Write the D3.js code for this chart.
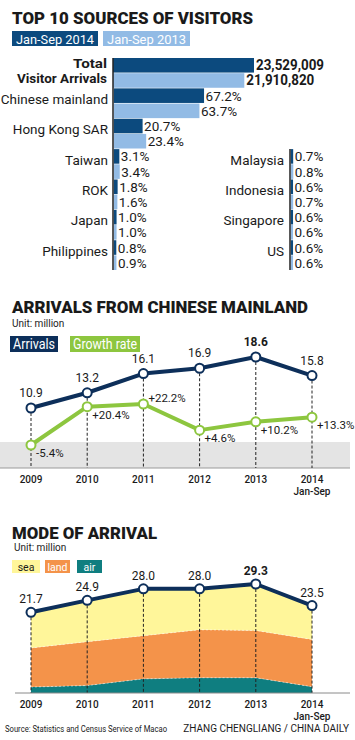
<!DOCTYPE html>
<html><head><meta charset="utf-8">
<script src="https://cdn.jsdelivr.net/npm/d3@7"></script>
<style>
html,body{margin:0;padding:0;background:#fff;}
svg{display:block;font-family:Roboto,"Noto Sans",sans-serif;}
</style></head>
<body><svg id="c" width="355" height="740"></svg>
<script>
// ---------- DATA ----------
const legendTop = ["Jan-Sep 2014", "Jan-Sep 2013"];
const totalLabel = ["Total", "Visitor Arrivals"];
const totalValues = [23529009, 21910820];
const leftCats = ["Chinese mainland", "Hong Kong SAR", "Taiwan", "ROK", "Japan", "Philippines"];
const left2014 = [67.2, 20.7, 3.1, 1.8, 1.0, 0.8];
const left2013 = [63.7, 23.4, 3.4, 1.6, 1.0, 0.9];
const rightCats = ["Malaysia", "Indonesia", "Singapore", "US"];
const right2014 = [0.7, 0.6, 0.6, 0.6];
const right2013 = [0.8, 0.7, 0.6, 0.6];

const years = ["2009", "2010", "2011", "2012", "2013", "2014"];
const yearSub = ["", "", "", "", "", "Jan-Sep"];
const arrivals = [10.9, 13.2, 16.1, 16.9, 18.6, 15.8];
const growth = [-5.4, 20.4, 22.2, 4.6, 10.2, 13.3];

const modeKeys = ["air", "land", "sea"];
const seaVals = [9.6, 11.1, 12.6, 11.0, 12.5, 9.1];
const landVals = [10.5, 11.8, 11.6, 12.9, 12.7, 12.7];
const airVals = [1.6, 2.0, 3.8, 4.1, 4.1, 1.7];
const modeTotals = [21.7, 24.9, 28.0, 28.0, 29.3, 23.5];

// ---------- STYLE ----------
const C = {
  dark: "#0c4a7e", light: "#92bbe5", navy: "#0d2f5a", green: "#8dc63f",
  sea: "#fff69a", land: "#f4934a", air: "#0f7e80", text: "#1a1a1a", band: "#e4e4e4"
};
const svg = d3.select("#c");

function title(txt, x, y, len) {
  svg.append("text").attr("x", x).attr("y", y).text(txt)
    .attr("font-size", 16.5).attr("font-weight", 900).attr("fill", C.text)
    .attr("textLength", len).attr("lengthAdjust", "spacingAndGlyphs");
}
const fmtPct = v => ((v > 0 ? "+" : "") + d3.format(".1f")(v)).replace("\u2212", "-") + "%";

// ================= TOP 10 SOURCES =================
title("TOP 10 SOURCES OF VISITORS", 12, 24, 241);
[[12, 86, C.dark], [103, 87, C.light]].forEach((d, i) => {
  svg.append("rect").attr("x", d[0]).attr("y", 31).attr("width", d[1]).attr("height", 15).attr("fill", d[2]);
  svg.append("text").attr("x", d[0] + 4).attr("y", 43.5).text(legendTop[i])
    .attr("fill", "#fff").attr("font-size", 13).attr("textLength", d[1] - 8).attr("lengthAdjust", "spacingAndGlyphs");
});

const rowIdx = d3.range(7);
const yRow = d3.scaleBand().domain(rowIdx).range([58, 270]).paddingInner(0.02);
const ySub = d3.scaleBand().domain(["2014", "2013"]).range([0, yRow.bandwidth()]).paddingInner(0.04);
const axL = 113, axR = 290;
const xPct = d3.scaleLinear().domain([0, 70]).range([1.5, 94]);
const xTot = d3.scaleLinear().domain([0, totalValues[0]]).range([0, 141]);

// Total row
const gTot = svg.append("g");
totalValues.forEach((v, i) => {
  const key = i === 0 ? "2014" : "2013";
  const y0 = yRow(0) + ySub(key);
  gTot.append("rect").attr("x", axL).attr("y", y0).attr("width", xTot(v)).attr("height", ySub.bandwidth())
    .attr("fill", i === 0 ? C.dark : C.light);
  gTot.append("text").attr("x", axL + xTot(v) + 2).attr("y", y0 + ySub.bandwidth() / 2 + 5)
    .text(d3.format(",")(v)).attr("font-size", 14).attr("font-weight", 700).attr("fill", C.text)
    .attr("textLength", 68).attr("lengthAdjust", "spacingAndGlyphs");
});
totalLabel.forEach((t, i) => {
  svg.append("text").attr("x", 107).attr("y", yRow(0) + 10 + i * 14.5).attr("text-anchor", "end")
    .text(t).attr("font-size", 12).attr("font-weight", 700).attr("fill", C.text)
    .attr("textLength", i === 0 ? 34 : 90).attr("lengthAdjust", "spacingAndGlyphs");
});

function drawRows(cats, v14, v13, startIdx, ax, labelX) {
  const g = svg.append("g");
  cats.forEach((c, i) => {
    const r = startIdx + i;
    g.append("text").attr("x", labelX).attr("y", yRow(r) + 15.5).attr("text-anchor", "end")
      .text(c).attr("font-size", 13.5).attr("fill", C.text);
    [[v14[i], "2014", C.dark], [v13[i], "2013", C.light]].forEach(d => {
      const y0 = yRow(r) + ySub(d[1]);
      const w = xPct(d[0]);
      g.append("rect").attr("x", ax).attr("y", y0).attr("width", w).attr("height", ySub.bandwidth()).attr("fill", d[2]);
      g.append("text").attr("x", ax + w + 1.5).attr("y", y0 + ySub.bandwidth() / 2 + 5)
        .text(d3.format(".1f")(d[0]) + "%").attr("font-size", 13.5).attr("fill", C.text);
    });
  });
}
drawRows(leftCats, left2014, left2013, 1, axL + 0.75, 108);
drawRows(rightCats, right2014, right2013, 3, axR + 0.75, 284);

svg.append("line").attr("x1", axL).attr("x2", axL).attr("y1", yRow(0)).attr("y2", yRow(6) + yRow.bandwidth())
  .attr("stroke", "#222").attr("stroke-width", 1.5);
svg.append("line").attr("x1", axR).attr("x2", axR).attr("y1", yRow(3)).attr("y2", yRow(6) + yRow.bandwidth())
  .attr("stroke", "#222").attr("stroke-width", 1.5);

// ================= ARRIVALS FROM CHINESE MAINLAND =================
title("ARRIVALS FROM CHINESE MAINLAND", 12, 313, 296);
svg.append("text").attr("x", 12).attr("y", 326.5).text("Unit: million").attr("font-size", 10).attr("fill", C.text);
[[10, 48, C.navy, "Arrivals"], [70, 70, C.green, "Growth rate"]].forEach(d => {
  svg.append("rect").attr("x", d[0]).attr("y", 336).attr("width", d[1]).attr("height", 16).attr("fill", d[2]);
  svg.append("text").attr("x", d[0] + 3).attr("y", 349).text(d[3]).attr("fill", "#fff").attr("font-size", 14)
    .attr("textLength", d[1] - 6).attr("lengthAdjust", "spacingAndGlyphs");
});

const x = d3.scalePoint().domain(years).range([31, 312]);
const base2 = 468;
const yA = d3.scaleLinear().domain([10.9, 18.6]).range([408, 357]);
const yG = d3.scaleLinear().domain([-5.4, 22.2]).range([445, 404]);

svg.append("rect").attr("x", 0).attr("y", 442).attr("width", 350).attr("height", base2 - 442).attr("fill", C.band);
svg.append("line").attr("x1", 0).attr("x2", 350).attr("y1", base2).attr("y2", base2).attr("stroke", "#9a9a9a").attr("stroke-width", 1);

const g2 = svg.append("g");
years.forEach((yr, i) => {
  g2.append("line").attr("x1", x(yr)).attr("x2", x(yr)).attr("y1", yA(arrivals[i])).attr("y2", base2)
    .attr("stroke", "#222").attr("stroke-width", 1).attr("stroke-dasharray", "3,2");
});
const lineA = d3.line().x((d, i) => x(years[i])).y(d => yA(d));
const lineG = d3.line().x((d, i) => x(years[i])).y(d => yG(d));
g2.append("path").attr("d", lineG(growth)).attr("fill", "none").attr("stroke", C.green).attr("stroke-width", 4).attr("stroke-linejoin", "round");
g2.append("path").attr("d", lineA(arrivals)).attr("fill", "none").attr("stroke", C.navy).attr("stroke-width", 4).attr("stroke-linejoin", "round");
growth.forEach((v, i) => {
  g2.append("circle").attr("cx", x(years[i])).attr("cy", yG(v)).attr("r", 4.5).attr("fill", "#fff").attr("stroke", C.green).attr("stroke-width", 2);
  const peak = i > 0 && i < growth.length - 1 && v > growth[i - 1] && v > growth[i + 1];
  g2.append("text").attr("x", x(years[i]) + 5).attr("y", yG(v) + (peak ? -2 : 12))
    .text(fmtPct(v)).attr("font-size", 11.5).attr("fill", C.text);
});
const maxA = d3.max(arrivals);
arrivals.forEach((v, i) => {
  g2.append("circle").attr("cx", x(years[i])).attr("cy", yA(v)).attr("r", 4.5).attr("fill", "#fff").attr("stroke", C.navy).attr("stroke-width", 2);
  g2.append("text").attr("x", x(years[i])).attr("y", yA(v) - 11).attr("text-anchor", "middle")
    .text(d3.format(".1f")(v)).attr("font-size", 12).attr("font-weight", v === maxA ? 700 : 400).attr("fill", C.text);
});
years.forEach((yr, i) => {
  g2.append("text").attr("x", x(yr)).attr("y", base2 + 15).attr("text-anchor", "middle").text(yr)
    .attr("font-size", 10).attr("font-weight", 500).attr("fill", C.text);
  if (yearSub[i]) g2.append("text").attr("x", x(yr)).attr("y", base2 + 27).attr("text-anchor", "middle").text(yearSub[i])
    .attr("font-size", 10).attr("font-weight", 500).attr("fill", C.text);
});

// ================= MODE OF ARRIVAL =================
title("MODE OF ARRIVAL", 12, 539, 145);
svg.append("text").attr("x", 14).attr("y", 551).text("Unit: million").attr("font-size", 10).attr("fill", C.text);
[[12, 28, C.sea, "sea", C.text], [45, 25, C.land, "land", "#fff"], [77, 25, C.air, "air", "#fff"]].forEach(d => {
  svg.append("rect").attr("x", d[0]).attr("y", 560).attr("width", d[1]).attr("height", 13).attr("fill", d[2]);
  svg.append("text").attr("x", d[0] + d[1] / 2).attr("y", 570.5).attr("text-anchor", "middle").text(d[3])
    .attr("fill", d[4]).attr("font-size", 10.5);
});

const base3 = 693;
const yM = d3.scaleLinear().domain([0, 29.3]).range([base3, 584]);
const modeData = years.map((yr, i) => ({ year: yr, sea: seaVals[i], land: landVals[i], air: airVals[i] }));
const stack = d3.stack().keys(modeKeys)(modeData);
const area = d3.area().x(d => x(d.data.year)).y0(d => yM(d[0])).y1(d => yM(d[1]));
const g3 = svg.append("g");
stack.forEach(s => {
  g3.append("path").attr("d", area(s)).attr("fill", C[s.key]);
});
stack.slice(0, 2).forEach(s => {
  g3.append("path").attr("d", d3.line().x(d => x(d.data.year)).y(d => yM(d[1]))(s))
    .attr("fill", "none").attr("stroke", "#fff").attr("stroke-width", 0.7).attr("stroke-dasharray", "2,2").attr("opacity", 0.7);
});
svg.append("line").attr("x1", 15).attr("x2", 350).attr("y1", base3).attr("y2", base3).attr("stroke", "#8a8a8a").attr("stroke-width", 1);
years.forEach((yr, i) => {
  g3.append("line").attr("x1", x(yr)).attr("x2", x(yr)).attr("y1", yM(modeTotals[i])).attr("y2", base3)
    .attr("stroke", "#222").attr("stroke-width", 1).attr("stroke-dasharray", "3,2");
});
const lineM = d3.line().x((d, i) => x(years[i])).y(d => yM(d));
g3.append("path").attr("d", lineM(modeTotals)).attr("fill", "none").attr("stroke", C.navy).attr("stroke-width", 4).attr("stroke-linejoin", "round");
const maxM = d3.max(modeTotals);
modeTotals.forEach((v, i) => {
  g3.append("circle").attr("cx", x(years[i])).attr("cy", yM(v)).attr("r", 4.5).attr("fill", "#fff").attr("stroke", C.navy).attr("stroke-width", 2);
  g3.append("text").attr("x", x(years[i])).attr("y", yM(v) - 9).attr("text-anchor", "middle")
    .text(d3.format(".1f")(v)).attr("font-size", 12).attr("font-weight", v === maxM ? 700 : 400).attr("fill", C.text);
});
years.forEach((yr, i) => {
  g3.append("text").attr("x", x(yr)).attr("y", base3 + 15).attr("text-anchor", "middle").text(yr)
    .attr("font-size", 10).attr("font-weight", 500).attr("fill", C.text);
  if (yearSub[i]) g3.append("text").attr("x", x(yr)).attr("y", base3 + 27).attr("text-anchor", "middle").text(yearSub[i])
    .attr("font-size", 10).attr("font-weight", 500).attr("fill", C.text);
});

svg.append("text").attr("x", 5).attr("y", 732).text("Source: Statistics and Census Service of Macao")
  .attr("font-size", 9).attr("fill", C.text).attr("textLength", 162).attr("lengthAdjust", "spacingAndGlyphs");
svg.append("text").attr("x", 349).attr("y", 732).attr("text-anchor", "end").text("ZHANG CHENGLIANG / CHINA DAILY")
  .attr("font-size", 10).attr("fill", C.text);
</script></body></html>
